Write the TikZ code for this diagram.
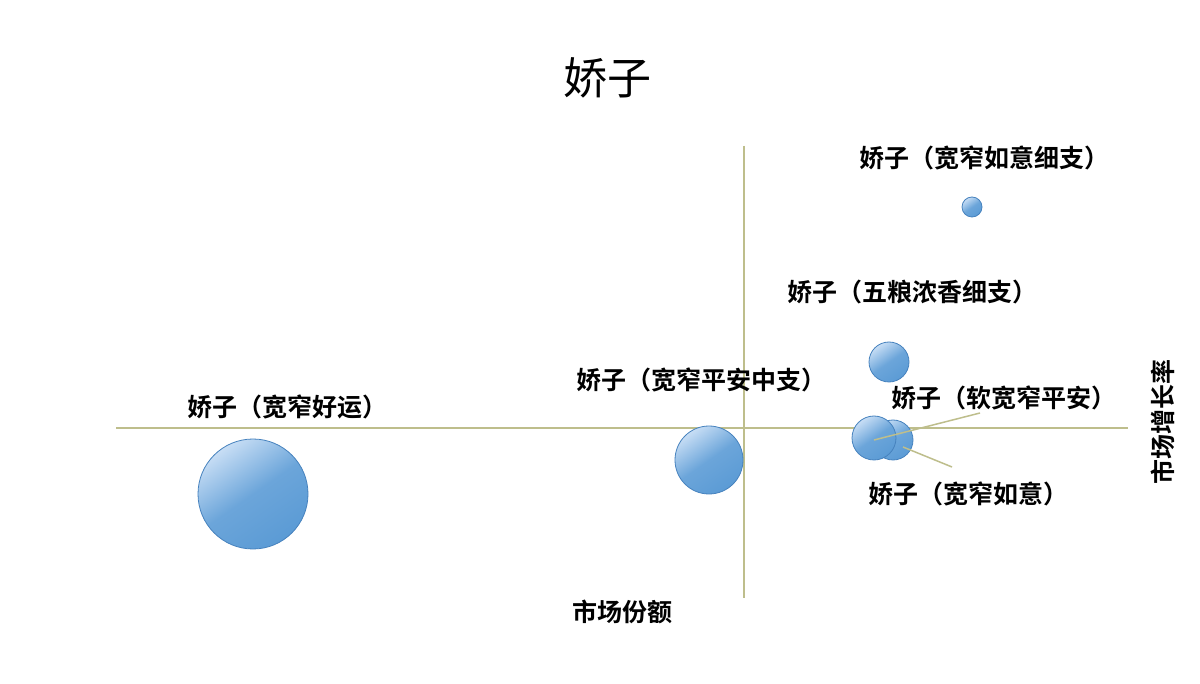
\documentclass[tikz,border=0pt]{standalone}
\usepackage{fontspec}
\setmainfont{Noto Sans CJK SC}
\newfontfamily\cjkb{Noto Sans CJK SC Bold}
\begin{document}
\begin{tikzpicture}[x=1pt,y=-1pt]
\definecolor{axisc}{RGB}{190,190,140}
\definecolor{bub}{RGB}{91,155,213}
\definecolor{bubl}{RGB}{200,222,245}
\definecolor{bubd}{RGB}{70,130,190}
\tikzset{
 lbl/.style={font=\cjkb\fontsize{25}{25}\selectfont,inner sep=0pt},
 axisline/.style={draw=axisc,line width=1.5pt},
 bubble/.style={draw=bubd,line width=0.8pt,top color=bubl,bottom color=bub,middle color=bub!85!bubl,shading angle=35},
 leader/.style={draw=axisc,line width=1.5pt}
}
\useasboundingbox[fill=white] (0,0) rectangle (1200,684);
\node[font=\fontsize{44}{44}\selectfont,inner sep=0pt] (title) at (607,78) {娇子};
\coordinate (hl) at (116,428); \coordinate (hr) at (1128,428);
\coordinate (vt) at (744,146); \coordinate (vb) at (744,598);
\draw[axisline] (hl) -- (hr);
\draw[axisline] (vt) -- (vb);
\node[lbl] (xlab) at (622,612) {市场份额};
\node[lbl,rotate=90] (ylab) at (1163,422) {市场增长率};
\shade[bubble] (253,494) circle (55);
\shade[bubble] (709,460) circle (34);
\shade[bubble] (889,362) circle (20);
\shade[bubble] (893,440) circle (20);
\shade[bubble] (874,438) circle (22);
\shade[bubble] (972,207) circle (10);
\node[lbl] (l1) at (984,158) {娇子（宽窄如意细支）};
\node[lbl] (l2) at (912,292) {娇子（五粮浓香细支）};
\node[lbl] (l3) at (701,380) {娇子（宽窄平安中支）};
\node[lbl] (l4) at (287,407) {娇子（宽窄好运）};
\node[lbl] (l5) at (1004,398) {娇子（软宽窄平安）};
\node[lbl] (l6) at (968,494) {娇子（宽窄如意）};
\coordinate (a1) at (874,440); \coordinate (a2) at (980,413);
\coordinate (b1) at (903,447); \coordinate (b2) at (952,467);
\draw[leader] (a1) -- (a2);
\draw[leader] (b1) -- (b2);
\end{tikzpicture}
\end{document}
